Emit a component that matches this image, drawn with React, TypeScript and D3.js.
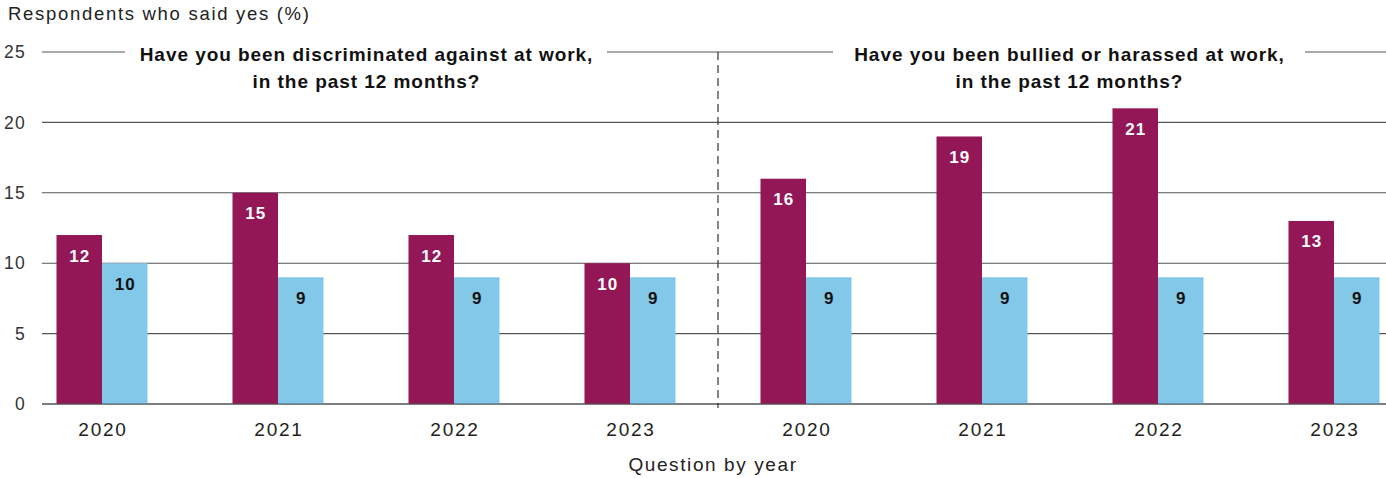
import React from "react";
import * as d3 from "d3";

const years = ["2020", "2021", "2022", "2023", "2020", "2021", "2022", "2023"];
const maroonValues = [12, 15, 12, 10, 16, 19, 21, 13];
const blueValues = [10, 9, 9, 9, 9, 9, 9, 9];
const yTicks = [0, 5, 10, 15, 20, 25];
const panelTitles = [
  ["Have you been discriminated against at work,", "in the past 12 months?"],
  ["Have you been bullied or harassed at work,", "in the past 12 months?"],
];

const W = 1386;
const H = 478;
const MAROON = "#931656";
const BLUE = "#82c8e8";
const FONT = "'Liberation Sans', Arial, Helvetica, sans-serif";

export default function App() {
  const idx = years.map((_, i) => i);
  const x = d3.scalePoint<number>().domain(idx).range([102, 1334]);
  const y = d3.scaleLinear().domain([0, 25]).range([404, 52]);
  const barW = 45.5;
  const gridX0 = 42;
  const gridX1 = W;
  const divX = ((x(3) as number) + (x(4) as number)) / 2;
  const titleCenters = [366, 1069];
  const titleHalf = [241, 236];
  const y25 = y(25);

  return (
    <svg width={W} height={H} style={{ position: "absolute", left: 0, top: 0, display: "block" }} fontFamily={FONT}>
      <rect width={W} height={H} fill="#fff" />
      <text x={8} y={20} fontSize={18.5} letterSpacing={1.7} fill="#222">Respondents who said yes (%)</text>
      {yTicks.map((t) => (
        <g key={t}>
          <text x={26} y={y(t)} dy="0.35em" textAnchor="end" fontSize={17.5} letterSpacing={1.3} fill="#333">{t}</text>
          {t !== 25 && (
            <line x1={gridX0} x2={gridX1} y1={y(t)} y2={y(t)} stroke="#555" strokeWidth={1.1} />
          )}
        </g>
      ))}
      <line x1={gridX0} x2={titleCenters[0] - titleHalf[0]} y1={y25} y2={y25} stroke="#555" strokeWidth={1.1} />
      <line x1={titleCenters[0] + titleHalf[0]} x2={titleCenters[1] - titleHalf[1]} y1={y25} y2={y25} stroke="#555" strokeWidth={1.1} />
      <line x1={titleCenters[1] + titleHalf[1]} x2={gridX1} y1={y25} y2={y25} stroke="#555" strokeWidth={1.1} />
      {panelTitles.map((lines, p) => (
        <text key={p} textAnchor="middle" fontSize={19} fontWeight="bold" letterSpacing={0.95} fill="#111">
          {lines.map((l, i) => (
            <tspan key={i} x={titleCenters[p] + 0.5} y={61 + i * 26.5}>{l}</tspan>
          ))}
        </text>
      ))}
      {idx.map((i) => {
        const cx = x(i) as number;
        return (
          <g key={i}>
            <rect x={cx - barW} y={y(maroonValues[i])} width={barW} height={y(0) - y(maroonValues[i])} fill={MAROON} />
            <rect x={cx} y={y(blueValues[i])} width={barW} height={y(0) - y(blueValues[i])} fill={BLUE} />
            <text x={cx - barW / 2 + 0.5} y={y(maroonValues[i]) + 26.5} textAnchor="middle" fontSize={17} fontWeight="bold" letterSpacing={1} fill="#fff">{maroonValues[i]}</text>
            <text x={cx + barW / 2 + 0.5} y={y(blueValues[i]) + 26.5} textAnchor="middle" fontSize={17} fontWeight="bold" letterSpacing={1} fill="#111">{blueValues[i]}</text>
            <text x={cx + 1} y={436} textAnchor="middle" fontSize={19} letterSpacing={1.8} fill="#222">{years[i]}</text>
          </g>
        );
      })}
      <line x1={gridX0} x2={gridX1} y1={y(0)} y2={y(0)} stroke="#555" strokeWidth={1.1} />
      <line x1={divX} x2={divX} y1={y25} y2={y(0) + 4} stroke="#333" strokeWidth={1.2} strokeDasharray="8,5" />
      <text x={713} y={471} textAnchor="middle" fontSize={19} letterSpacing={1.6} fill="#222">Question by year</text>
    </svg>
  );
}
